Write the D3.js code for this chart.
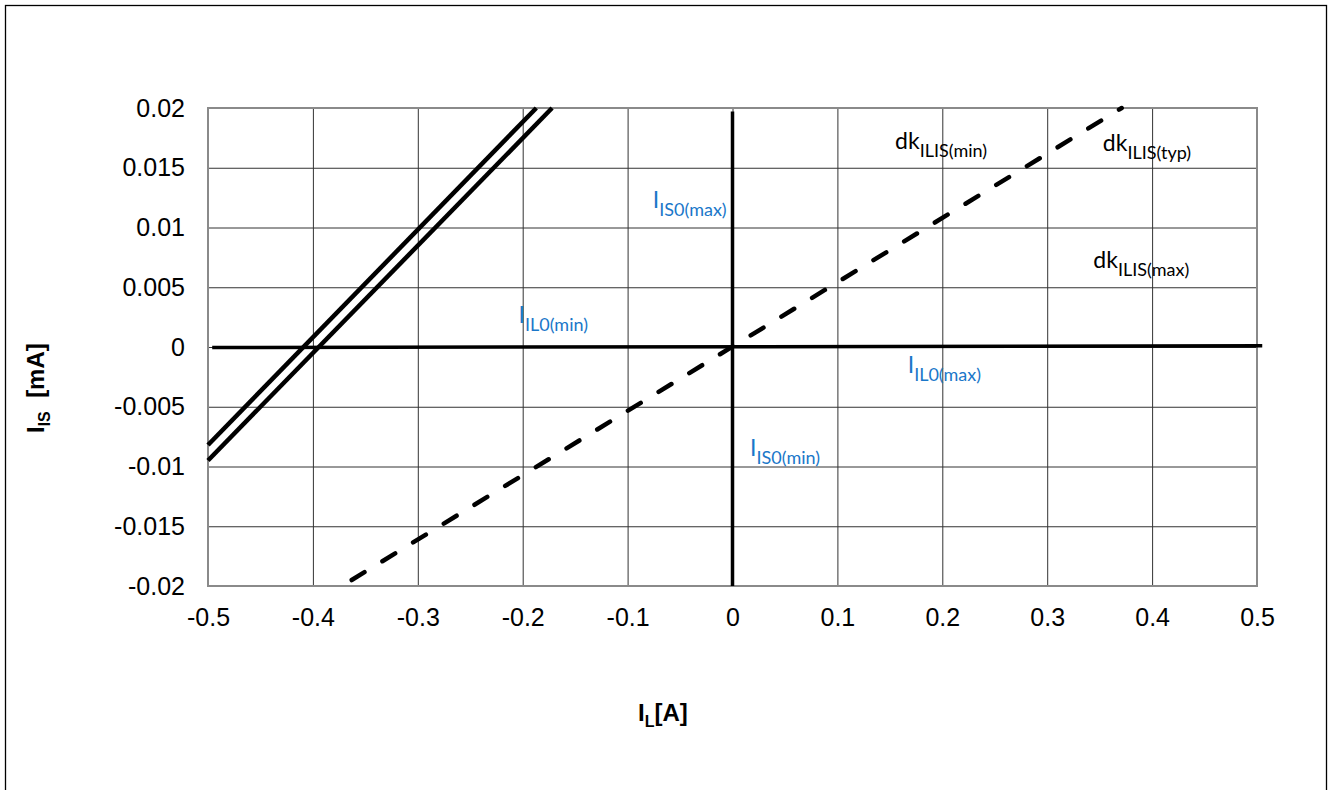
<!DOCTYPE html>
<html>
<head>
<meta charset="utf-8">
<script src="https://cdn.jsdelivr.net/npm/d3@7"></script>
<style>
  body { margin: 0; background: #fff; }
  svg { display: block; }
</style>
</head>
<body>
<div id="chart"></div>
<script>
// Data
const xTicks = [-0.5, -0.4, -0.3, -0.2, -0.1, 0, 0.1, 0.2, 0.3, 0.4, 0.5]
const xTickLabels = ["-0.5", "-0.4", "-0.3", "-0.2", "-0.1", "0", "0.1", "0.2", "0.3", "0.4", "0.5"]
const yTicks = [-0.02, -0.015, -0.01, -0.005, 0, 0.005, 0.01, 0.015, 0.02]
const yTickLabels = ["-0.02", "-0.015", "-0.01", "-0.005", "0", "0.005", "0.01", "0.015", "0.02"]

// dk ILIS lines (two parallel solid, one dashed typical)
const lineAx = [-0.5, -0.187]
const lineAy = [-0.0082, 0.02]
const lineBx = [-0.5, -0.172]
const lineBy = [-0.0095, 0.02]
const typX = [-0.363, 0.371]
const typY = [-0.0195, 0.02]
// offset lines
const il0X = [-0.496, 0.505]
const il0Y = [-0.00005, 0.0001]
const is0X = [0, 0]
const is0Y = [0.0197, -0.02]

// annotation texts, anchored in data units
const notes = [
  { main: "dk", sub: "ILIS(min)", x: 0.155, y: 0.0166, color: "#000" },
  { main: "dk", sub: "ILIS(typ)", x: 0.353, y: 0.0164, color: "#000" },
  { main: "dk", sub: "ILIS(max)", x: 0.344, y: 0.0066, color: "#000" },
  { main: "I", sub: "IS0(max)", x: -0.076, y: 0.0116, color: "#1a77c9" },
  { main: "I", sub: "IL0(min)", x: -0.204, y: 0.002, color: "#1a77c9" },
  { main: "I", sub: "IL0(max)", x: 0.167, y: -0.0022, color: "#1a77c9" },
  { main: "I", sub: "IS0(min)", x: 0.0167, y: -0.0091, color: "#1a77c9" }
]

const dimensions = {
  width: 1331,
  height: 790,
  margins: { top: 108, right: 74, bottom: 204, left: 208 }
}
dimensions.ctrWidth = dimensions.width - dimensions.margins.left - dimensions.margins.right
dimensions.ctrHeight = dimensions.height - dimensions.margins.top - dimensions.margins.bottom

const svg = d3.select("#chart")
  .append("svg")
  .attr("width", dimensions.width)
  .attr("height", dimensions.height)

// outer frame
svg.append("rect")
  .attr("x", 5.5)
  .attr("y", 5.5)
  .attr("width", 1321)
  .attr("height", 800)
  .attr("fill", "none")
  .attr("stroke", "#000")
  .attr("stroke-width", 1.3)

const ctr = svg.append("g")
  .attr("transform", `translate(${dimensions.margins.left}, ${dimensions.margins.top})`)

// Scales
const xScale = d3.scaleLinear()
  .domain([-0.5, 0.5])
  .range([0, dimensions.ctrWidth])

const yScale = d3.scaleLinear()
  .domain([-0.02, 0.02])
  .range([dimensions.ctrHeight, 0])

const tickFont = "'Liberation Sans', Arial, sans-serif"

// Axes with grid
const xAxis = d3.axisBottom(xScale)
  .tickValues(xTicks)
  .tickFormat((d, i) => xTickLabels[i])
  .tickSize(-dimensions.ctrHeight)
  .tickPadding(22)

const xAxisGroup = ctr.append("g")
  .attr("transform", `translate(0, ${dimensions.ctrHeight})`)
  .call(xAxis)

const yAxis = d3.axisLeft(yScale)
  .tickValues(yTicks)
  .tickFormat((d, i) => yTickLabels[i])
  .tickSize(-dimensions.ctrWidth)
  .tickPadding(23)

const yAxisGroup = ctr.append("g").call(yAxis)

;[xAxisGroup, yAxisGroup].forEach(g => {
  g.select(".domain").remove()
  g.selectAll(".tick line")
    .attr("stroke", "#333")
    .attr("stroke-width", 1)
  g.selectAll(".tick text")
    .attr("fill", "#000")
    .style("font-family", tickFont)
    .style("font-size", "25px")
})
xAxisGroup.selectAll(".tick text").attr("dy", "0.72em")

// plot frame
ctr.append("rect")
  .attr("width", dimensions.ctrWidth)
  .attr("height", dimensions.ctrHeight)
  .attr("fill", "none")
  .attr("stroke", "#8a8a8a")
  .attr("stroke-width", 2)

// Lines
const line = d3.line()
  .x(d => xScale(d[0]))
  .y(d => yScale(d[1]))

const series = [
  { xs: il0X, ys: il0Y, w: 3.5, dash: null },
  { xs: is0X, ys: is0Y, w: 3.5, dash: null },
  { xs: lineAx, ys: lineAy, w: 4.5, dash: null },
  { xs: lineBx, ys: lineBy, w: 4.5, dash: null },
  { xs: typX, ys: typY, w: 4.5, dash: "15 21" }
]

ctr.selectAll("path.series")
  .data(series)
  .join("path")
  .attr("class", "series")
  .attr("d", s => line(s.xs.map((x, i) => [x, s.ys[i]])))
  .attr("fill", "none")
  .attr("stroke", "#000")
  .attr("stroke-width", s => s.w)
  .attr("stroke-linecap", s => s.dash ? "round" : "butt")
  .attr("stroke-dasharray", s => s.dash)

// Annotations
const noteText = ctr.selectAll("text.note")
  .data(notes)
  .join("text")
  .attr("class", "note")
  .attr("x", d => xScale(d.x))
  .attr("y", d => yScale(d.y))
  .attr("fill", d => d.color)
  .style("font-family", "Lato, 'Open Sans', sans-serif")
  .style("font-size", "23px")

noteText.append("tspan").text(d => d.main)
noteText.append("tspan")
  .attr("dy", 8)
  .style("font-size", "18px")
  .text(d => d.sub)

// Axis titles
svg.append("text")
  .attr("x", 638)
  .attr("y", 721)
  .style("font-family", tickFont)
  .style("font-size", "24px")
  .style("font-weight", "bold")
  .call(t => {
    t.append("tspan").text("I")
    t.append("tspan").attr("dy", 6).style("font-size", "16px").text("L")
    t.append("tspan").attr("dy", -6).text("[A]")
  })

svg.append("text")
  .attr("transform", "translate(44, 433) rotate(-90)")
  .style("font-family", tickFont)
  .style("font-size", "24px")
  .style("font-weight", "bold")
  .call(t => {
    t.append("tspan").text("I")
    t.append("tspan").attr("dy", 6).style("font-size", "16px").text("IS")
    t.append("tspan").attr("dy", -6).attr("xml:space", "preserve").text("  [mA]")
  })
</script>
</body>
</html>
